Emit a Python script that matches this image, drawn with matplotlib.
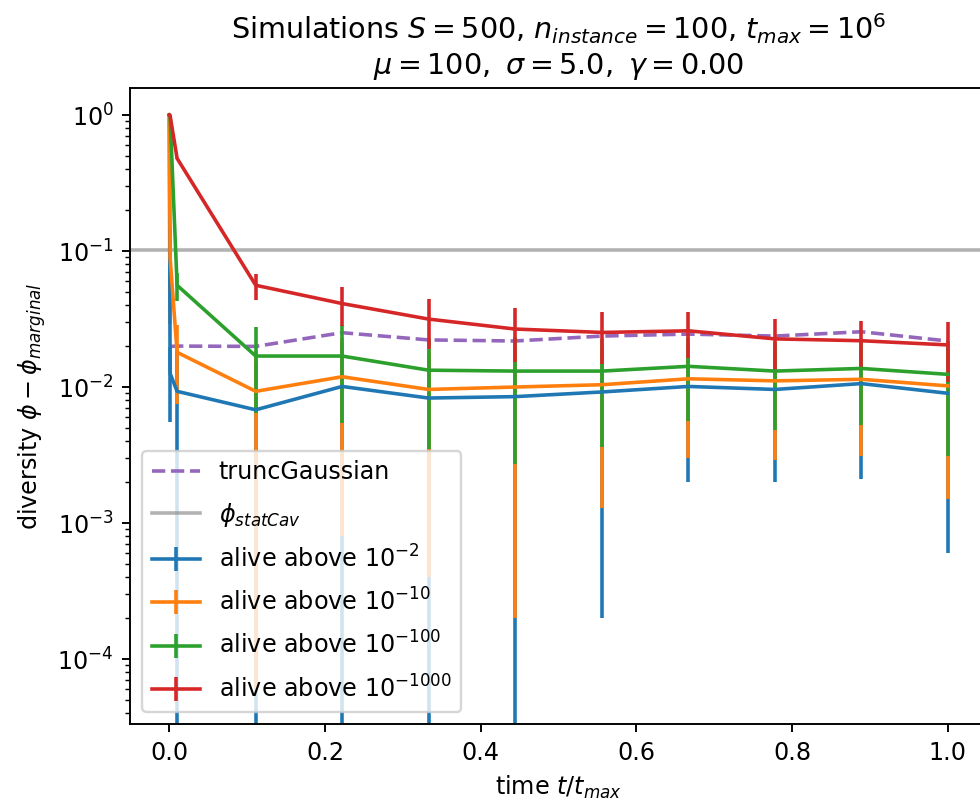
import matplotlib
matplotlib.use("Agg")
import matplotlib.pyplot as plt

# time points t/t_max
times = [0.0, 0.001, 0.01, 0.111, 0.222, 0.333, 0.444, 0.556, 0.667, 0.778, 0.889, 1.0]

# diversity (mean, std) for each survival threshold
div_1e2 = [1.0, 0.0126, 0.0093, 0.0068, 0.0101, 0.0083, 0.0085, 0.0092, 0.0101, 0.0096, 0.0106, 0.0090]
err_1e2 = [0.0, 0.0071, 0.0095, 0.0080, 0.0110, 0.0090, 0.0088, 0.0090, 0.0081, 0.0076, 0.0085, 0.0084]

div_1e10 = [1.0, 0.089, 0.018, 0.0093, 0.0119, 0.0096, 0.0100, 0.0104, 0.0115, 0.0111, 0.0114, 0.0102]
err_1e10 = [0.0, 0.06, 0.0105, 0.00924, 0.0111, 0.0092, 0.0098, 0.0091, 0.0085, 0.0082, 0.0083, 0.0087]

div_1e100 = [1.0, 0.98, 0.056, 0.0169, 0.0169, 0.0133, 0.0131, 0.0131, 0.0142, 0.0131, 0.0137, 0.0124]
err_1e100 = [0.0, 0.02, 0.013, 0.0105, 0.0115, 0.0098, 0.0104, 0.0095, 0.0086, 0.0083, 0.0084, 0.0093]

div_1e1000 = [1.0, 0.99, 0.48, 0.056, 0.0411, 0.0316, 0.0267, 0.0252, 0.0259, 0.0226, 0.0219, 0.0204]
err_1e1000 = [0.0, 0.01, 0.005, 0.012, 0.013, 0.0125, 0.0115, 0.0105, 0.0096, 0.0092, 0.0085, 0.0095]

# truncated gaussian prediction (from t[1] on)
tg_times = times[1:]
tg_div = [0.0199, 0.0200, 0.0199, 0.0251, 0.0222, 0.0218, 0.0237, 0.0245, 0.0237, 0.0255, 0.0218]

phi_statcav = 0.102

series = [
    (div_1e2, err_1e2, r"alive above $10^{-2}$", "C0"),
    (div_1e10, err_1e10, r"alive above $10^{-10}$", "C1"),
    (div_1e100, err_1e100, r"alive above $10^{-100}$", "C2"),
    (div_1e1000, err_1e1000, r"alive above $10^{-1000}$", "C3"),
]

dpi = 172
fig = plt.figure(figsize=(980 / dpi, 807 / dpi), dpi=dpi)
ax = fig.add_axes([130.4 / 980, 1 - 724 / 807, (986.6 - 130.4) / 980, (724 - 88) / 807])

ax.plot(tg_times, tg_div, "--", color="C4", label="truncGaussian")
ax.axhline(phi_statcav, color="gray", alpha=0.6, label=r"$\phi_{statCav}$")
for vals, errs, lab, col in series:
    ax.errorbar(times, vals, yerr=errs, color=col, label=lab)

ax.set_yscale("log")
ax.set_xlim(-0.05, 1.05)
ax.set_ylim(3.33e-5, 1.58)

ax.set_title(r"Simulations $S=500$, $n_{instance}=100$, $t_{max}=10^6$" + "\n"
             + r"$\mu=100,\ \sigma=5.0,\ \gamma=0.00$")
ax.set_xlabel(r"time $t/t_{max}$")
ax.set_ylabel(r"diversity $\phi - \phi_{marginal}$")
ax.legend(loc="lower left", labelspacing=0.68)

fig.savefig("out.png", dpi=dpi)
